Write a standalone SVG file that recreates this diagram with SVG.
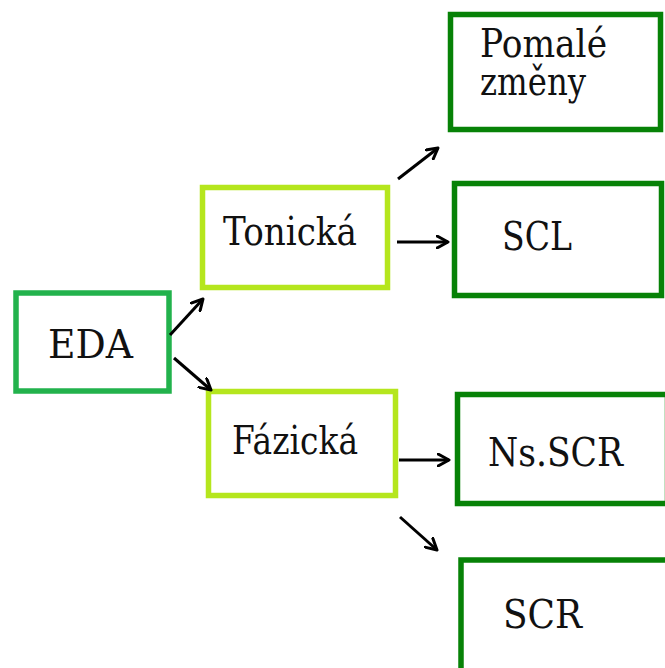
<svg xmlns="http://www.w3.org/2000/svg" width="665" height="668" viewBox="0 0 665 668">
<defs>
<style>
.box{fill:#fff;stroke-width:5.5}
.g1{stroke:#22b24c}
.g2{stroke:#b5e61d}
.g3{stroke:#078207}
.t{font-family:'DejaVu Serif','Liberation Serif',serif;font-size:39px;fill:#111}
.conn line{stroke:#000;stroke-width:3;marker-end:url(#ah)}
</style>
<marker id="ah" viewBox="0 0 14 14" refX="12" refY="7" markerWidth="14" markerHeight="14" markerUnits="userSpaceOnUse" orient="auto">
<path d="M1,1 L12,7 L1,13" fill="none" stroke="#000" stroke-width="3" stroke-linecap="round" stroke-linejoin="round"/>
</marker>
</defs>
<rect width="665" height="668" fill="#fff"/>
<g id="eda"><rect class="box g1" x="16" y="293" width="153" height="98"/><text class="t" x="48" y="358" textLength="85" lengthAdjust="spacingAndGlyphs">EDA</text></g>
<g id="tonicka"><rect class="box g2" x="202.5" y="187.5" width="185" height="100"/><text class="t" x="223" y="245" textLength="134" lengthAdjust="spacingAndGlyphs">Tonická</text></g>
<g id="fazicka"><rect class="box g2" x="208.5" y="391.5" width="187" height="104"/><text class="t" x="232" y="454" textLength="126" lengthAdjust="spacingAndGlyphs">Fázická</text></g>
<g id="pomale"><rect class="box g3" x="450.5" y="14.5" width="210" height="115"/><text class="t"><tspan x="480" y="57" textLength="127" lengthAdjust="spacingAndGlyphs">Pomalé</tspan><tspan x="480" y="95" textLength="106" lengthAdjust="spacingAndGlyphs">změny</tspan></text></g>
<g id="scl"><rect class="box g3" x="454.5" y="183.5" width="207" height="112"/><text class="t" x="502" y="250" textLength="70" lengthAdjust="spacingAndGlyphs">SCL</text></g>
<g id="nsscr"><rect class="box g3" x="457.5" y="394.5" width="210" height="109"/><text class="t" x="488" y="466" textLength="135" lengthAdjust="spacingAndGlyphs">Ns.SCR</text></g>
<g id="scr"><rect class="box g3" x="461" y="560" width="210" height="120"/><text class="t" x="503" y="628" textLength="79" lengthAdjust="spacingAndGlyphs">SCR</text></g>
<g class="conn" id="connectors">
<line x1="170" y1="335" x2="203" y2="299"/>
<line x1="174" y1="358" x2="211" y2="390"/>
<line x1="398" y1="179" x2="438" y2="148"/>
<line x1="397" y1="242" x2="448" y2="242"/>
<line x1="399" y1="460" x2="449" y2="460"/>
<line x1="400" y1="517" x2="437" y2="550"/>
</g>
</svg>
